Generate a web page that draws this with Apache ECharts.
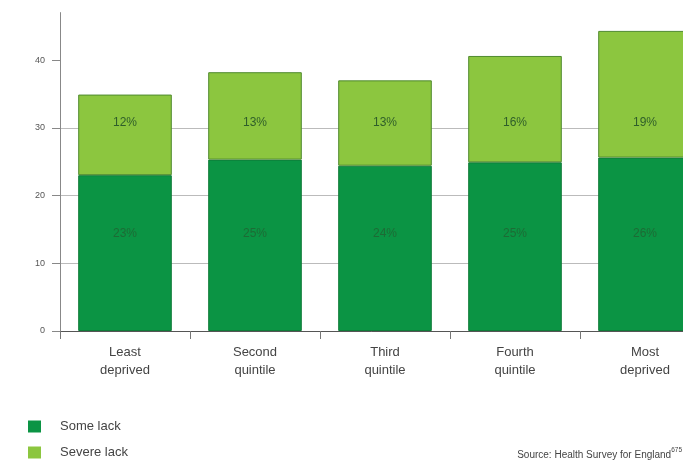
<!DOCTYPE html>
<html>
<head>
<meta charset="utf-8">
<script src="https://cdn.jsdelivr.net/npm/echarts@6/dist/echarts.min.js"></script>
<style>
html,body{margin:0;padding:0;background:#fff;}
#chart{width:683px;height:463px;}
</style>
</head>
<body>
<div id="chart"></div>
<script>
const categories = ['Least\ndeprived', 'Second\nquintile', 'Third\nquintile', 'Fourth\nquintile', 'Most\ndeprived'];
const someLack = [23.0, 25.3, 24.4, 24.9, 25.6];
const severeLack = [11.9, 12.9, 12.6, 15.7, 18.7];
const someLackLabels = ['23%', '25%', '24%', '25%', '26%'];
const severeLackLabels = ['12%', '13%', '13%', '16%', '19%'];
const yTicks = [0, 10, 20, 30, 40];
const seriesNames = ['Some lack', 'Severe lack'];

// label rows sit at fixed heights in the original layout
const yMax = 47, plotH = 318.4;
const pxPerUnit = plotH / yMax;
const someLabelLevel = 14.3, severeLabelLevel = 30.7;

const chart = echarts.init(document.getElementById('chart'), null, {renderer: 'canvas'});
const font = 'Liberation Sans, Arial, sans-serif';

const someData = someLack.map((v, i) => ({
  value: v,
  label: {offset: [0, (v / 2 - someLabelLevel) * pxPerUnit]}
}));
const severeData = severeLack.map((v, i) => ({
  value: v,
  label: {offset: [0, (someLack[i] + v / 2 - severeLabelLevel) * pxPerUnit]}
}));

chart.setOption({
  animation: false,
  backgroundColor: '#ffffff',
  textStyle: {fontFamily: font},
  grid: {left: 60, width: 650, top: 12.6, height: plotH, containLabel: false, outerBoundsMode: 'none'},
  legend: {
    orient: 'vertical', left: 28, top: 420, padding: 0, icon: 'rect',
    itemWidth: 13, itemHeight: 12, itemGap: 13,
    itemStyle: {borderWidth: 0},
    textStyle: {fontSize: 13, color: '#444', fontFamily: font, padding: [0, 0, 0, 14]},
    data: seriesNames
  },
  graphic: [{
    type: 'text', right: 1, top: 447,
    style: {
      text: '{a|Source: Health Survey for England}{s|675}',
      rich: {
        a: {fontSize: 10, fill: '#444', fontFamily: font, verticalAlign: 'bottom'},
        s: {fontSize: 6.5, fill: '#444', fontFamily: font, verticalAlign: 'top', padding: [0,0,6,0]}
      }
    }
  }],
  xAxis: {
    type: 'category', data: categories,
    axisLine: {show: true, lineStyle: {color: '#555', width: 1}},
    axisTick: {show: true, alignWithLabel: false, length: 8, lineStyle: {color: '#777'}, inside: false},
    axisLabel: {fontSize: 13, color: '#444', lineHeight: 18, margin: 12, fontFamily: font},
    splitLine: {show: false}
  },
  yAxis: {
    type: 'value', min: 0, max: yMax, interval: 10,
    axisLine: {show: true, lineStyle: {color: '#888', width: 1}},
    axisTick: {show: true, length: 8, lineStyle: {color: '#888'}, customValues: yTicks},
    axisLabel: {fontSize: 9, color: '#555', margin: 15, fontFamily: font, customValues: yTicks},
    splitLine: {show: true, showMaxLine: false, lineStyle: {color: '#bbb', width: 1}}
  },
  series: [
    {
      name: seriesNames[0], type: 'bar', stack: 'total', data: someData, barWidth: '72%',
      itemStyle: {color: '#0b9444', borderColor: '#0f7a38', borderWidth: 1},
      label: {show: true, position: 'inside',
        formatter: p => someLackLabels[p.dataIndex], color: '#1d6b35', fontSize: 12, fontFamily: font}
    },
    {
      name: seriesNames[1], type: 'bar', stack: 'total', data: severeData, barWidth: '72%',
      itemStyle: {color: '#8cc63f', borderColor: '#4f8a2e', borderWidth: 1},
      label: {show: true, position: 'inside',
        formatter: p => severeLackLabels[p.dataIndex], color: '#2f5e2a', fontSize: 12, fontFamily: font}
    }
  ]
});
</script>
</body>
</html>
